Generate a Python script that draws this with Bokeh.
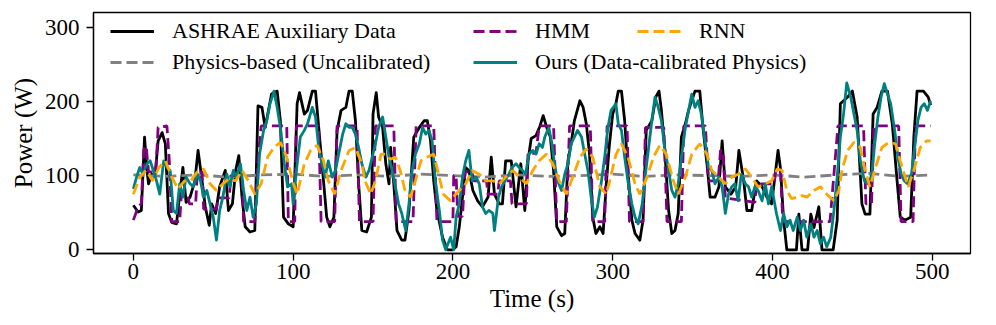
from bokeh.plotting import figure
from bokeh.models import Legend, LegendItem, FixedTicker, Range1d
from bokeh.embed import file_html
from bokeh.resources import INLINE

# ---------------- data ----------------
t_ashrae = [0, 3, 5, 7, 8.5, 9.5, 11.5, 13.5, 15.5, 18, 20, 22, 24, 27, 29, 31, 33, 35.5, 38.5, 40.5,
            43, 45, 47.5, 49, 51.5, 54, 57.5, 59.5, 62, 64, 66, 68, 70, 73, 76, 78, 80.5, 82.5, 86.5, 90,
            92, 94, 97, 100, 102.5, 104, 107, 109, 112, 114, 116, 119, 121, 123, 125.5, 127.5, 130, 133, 135, 137,
            139, 141, 143, 146, 149, 150, 152, 153.5, 156, 158, 160, 161, 163, 165, 168, 170, 172.5, 175.5, 179, 182,
            184, 186, 188, 190, 193.5, 196.5, 200, 202, 204, 206, 208, 210, 212.5, 215.5, 218.5, 222, 224, 226, 229, 231,
            233, 236.5, 239.5, 242.5, 245, 247, 249, 252, 254.5, 256.5, 259, 261, 263, 265, 268, 270, 272, 274, 276, 279.5,
            281.5, 283.5, 285.5, 287.5, 289.5, 292, 294, 296, 298, 300, 302, 303.5, 305.5, 307.5, 309.5, 312, 314, 317, 319, 321,
            324.5, 327, 329, 330.5, 332.5, 335, 337, 339, 341, 343, 345.5, 347.5, 351.5, 354.5, 356.5, 359, 361, 364, 366.5, 368.5,
            370.5, 374, 377, 379, 382, 384, 387, 390, 393.5, 396.5, 399.5, 403.5, 405, 407, 409, 415, 416.5, 418.5, 422, 424,
            426, 429, 431, 438, 440.5, 442.5, 444.5, 447, 450, 453, 456, 458, 461, 463, 465.5, 468.5, 472, 475, 478, 480,
            483, 486.5, 488.5, 490.5, 494.5, 497.5, 499]
v_ashrae = [60, 51, 53, 152, 107, 89, 102, 98, 147, 158, 143, 49, 37, 35, 75, 111, 64, 71, 93, 134,
            93, 58, 33, 62, 49, 85, 107, 53, 62, 107, 127, 71, 31, 24, 26, 194, 192, 165, 210, 214,
            174, 44, 35, 31, 197, 212, 183, 188, 214, 214, 165, 93, 44, 31, 44, 161, 188, 192, 214, 214,
            174, 89, 26, 24, 44, 183, 212, 179, 165, 116, 89, 138, 89, 26, 13, 13, 53, 152, 165, 174,
            174, 147, 93, 53, 17, 0, 0, 4, 31, 71, 111, 107, 80, 66, 58, 71, 125, 75, 62, 62,
            120, 120, 58, 116, 53, 120, 150, 154, 167, 181, 163, 152, 107, 31, 19, 22, 120, 143, 174, 201,
            192, 170, 129, 44, 22, 31, 22, 89, 143, 183, 197, 214, 214, 174, 107, 40, 22, 13, 40, 161,
            174, 206, 214, 188, 138, 53, 22, 26, 49, 152, 170, 188, 214, 214, 165, 116, 71, 71, 85, 147,
            85, 75, 85, 134, 93, 53, 53, 93, 85, 71, 62, 134, 110, 40, 0, 0, 48, 0, 0, 48,
            30, 58, 0, 0, 40, 197, 201, 206, 214, 179, 62, 48, 48, 183, 192, 214, 214, 170, 93, 44,
            40, 44, 152, 214, 214, 206, 195]

t_physics = [0, 20, 40, 60, 80, 100, 120, 140, 160, 180, 200, 220, 240, 260, 280, 300, 320, 340, 360, 380,
             400, 420, 440, 460, 480, 499]
v_physics = [101, 99, 101, 98, 101, 102, 99, 101, 99, 102, 100, 98, 101, 99, 100, 102, 99, 101, 100, 99,
             101, 98, 101, 103, 99, 101]

t_hmm = [0, 3, 5, 6.5, 8, 9.5, 14, 15.5, 21, 22.5, 24, 29, 30, 34, 35, 39, 40, 43, 44, 52,
         53, 60, 61, 68, 69, 76, 78, 80, 96, 97, 101, 102, 116, 117.5, 126, 127.5, 140, 141.5, 150, 151.5,
         163, 164.5, 175, 177, 188, 190, 200, 200.5, 202, 203, 206, 207.5, 212, 213, 221, 222, 228, 229, 236, 237,
         246, 247, 252, 254, 263, 265, 271, 273, 286, 287.5, 295, 296.5, 309, 310.5, 319, 320.5, 332, 334, 343, 344.5,
         358, 360, 366, 367.5, 369, 370.5, 389, 390, 401, 402, 405, 406.5, 436, 441, 457, 458.5, 462, 463.5, 479, 480.5,
         488, 489.5, 499]
v_hmm = [40, 58, 62, 135, 140, 105, 105, 165, 167, 120, 38, 38, 75, 75, 62, 62, 105, 105, 55, 55,
         70, 70, 100, 100, 38, 38, 120, 167, 167, 38, 38, 167, 167, 38, 38, 167, 167, 38, 38, 167,
         167, 38, 38, 167, 167, 38, 38, 100, 100, 45, 45, 105, 105, 93, 93, 75, 75, 93, 93, 62,
         62, 130, 130, 167, 167, 38, 38, 167, 167, 38, 38, 167, 167, 38, 38, 165, 165, 38, 38, 167,
         167, 93, 93, 134, 134, 70, 64, 89, 89, 107, 107, 38, 38, 167, 167, 62, 62, 167, 167, 38,
         38, 167, 167]

t_ours = [0, 2, 4, 6, 8.5, 10.5, 12.5, 14.5, 16.5, 19, 21, 23, 25, 27, 29, 31, 33, 35.5, 37.5, 40,
          42, 44, 46, 48, 50, 52, 54, 56, 58.5, 60.5, 62.5, 64.5, 67, 69, 71, 73, 75, 77, 79, 81.5,
          83.5, 85.5, 88, 90, 92, 94.5, 96.5, 99, 100, 102.5, 104.5, 107, 109, 112, 114, 116, 118, 120, 122, 124.5,
          126.5, 128.5, 131, 133, 135, 137, 139, 141, 143, 145.5, 147.5, 149.5, 151.5, 153.5, 156, 158, 160, 162, 164, 166,
          168, 170.5, 172.5, 174.5, 176.5, 179, 181, 183, 185, 187, 189, 191.5, 193.5, 195.5, 198.5, 200.5, 202, 204, 206, 208,
          210, 212, 214.5, 216.5, 218.5, 220.5, 222.5, 225, 226, 228.5, 230.5, 232.5, 235, 237, 239.5, 241.5, 243.5, 245.5, 247.5, 250,
          252, 254, 256, 257.5, 260, 262, 263.5, 265.5, 268, 270, 272, 274, 276, 278, 280.5, 282.5, 284.5, 286.5, 288.5, 290.5,
          293, 295, 297, 299, 302, 303.5, 305.5, 307.5, 309.5, 312, 314, 316, 318.5, 320.5, 322.5, 324.5, 326.5, 328.5, 330.5, 332.5,
          335, 337, 339, 341, 343, 345.5, 347.5, 349.5, 351.5, 353.5, 355.5, 358, 360, 362, 364, 366.5, 368.5, 370.5, 372.5, 374.5,
          376.5, 378.5, 380.5, 383, 385, 387, 389, 391, 393.5, 395.5, 397.5, 399.5, 402.5, 405, 407, 409, 411, 413, 415.5, 417.5,
          419.5, 421.5, 424, 426, 428, 430, 432, 434, 436.5, 438.5, 440.5, 442.5, 444.5, 446.5, 449, 451, 453, 455, 457.5, 459.5,
          462, 464, 466, 468, 470, 472, 474, 476.5, 478.5, 480.5, 482.5, 484.5, 487, 489, 491, 493, 495, 497, 499]
v_ours = [82, 98, 111, 102, 116, 120, 107, 93, 75, 120, 111, 107, 53, 49, 89, 71, 98, 89, 85, 102,
          93, 71, 80, 62, 44, 13, 53, 71, 102, 85, 107, 98, 116, 80, 53, 71, 44, 62, 129, 161,
          174, 197, 214, 192, 165, 116, 85, 89, 62, 116, 152, 161, 170, 192, 179, 138, 116, 98, 120, 98,
          107, 129, 156, 170, 165, 165, 156, 138, 116, 98, 107, 125, 143, 165, 179, 152, 125, 107, 85, 62,
          49, 26, 62, 107, 129, 143, 165, 156, 161, 147, 93, 53, 13, 0, 17, 0, 44, 62, 98, 120,
          134, 93, 98, 89, 58, 49, 53, 49, 26, 71, 85, 93, 102, 111, 116, 111, 107, 102, 129, 134,
          129, 143, 138, 152, 165, 143, 116, 93, 80, 102, 116, 143, 152, 161, 152, 129, 107, 71, 44, 58,
          93, 125, 165, 188, 197, 170, 161, 125, 93, 62, 44, 35, 62, 102, 138, 174, 206, 192, 174, 138,
          107, 80, 71, 89, 125, 165, 188, 210, 192, 201, 183, 143, 111, 107, 89, 98, 85, 49, 75, 85,
          89, 66, 102, 89, 85, 71, 85, 80, 66, 89, 62, 85, 49, 26, 49, 31, 40, 26, 44, 26,
          40, 17, 35, 17, 26, 8, 17, 4, 17, 53, 98, 152, 183, 225, 206, 183, 161, 120, 93, 89,
          98, 143, 179, 206, 224, 210, 197, 161, 125, 102, 93, 89, 102, 138, 174, 192, 197, 188, 201]

t_rnn = [0, 4, 8, 12, 16, 20, 24, 28, 32, 36, 40, 44, 48, 52, 56, 60, 64, 68, 72, 76,
         80, 84, 88, 92, 96, 100, 102.5, 107, 111, 115, 119, 122, 126, 130, 135, 139, 143, 145, 148.5, 151.5,
         155, 158, 161, 164, 167, 170, 173.5, 176.5, 180, 184, 188, 191, 194, 198.5, 200, 204, 208, 212, 216.5, 220.5,
         225, 229, 233, 237.5, 241.5, 246, 250, 254, 258.5, 262.5, 266.5, 271, 275, 279.5, 283.5, 287.5, 292, 296, 298, 302,
         305.5, 309.5, 314, 317, 321.5, 325.5, 329.5, 333.5, 338, 341, 345.5, 349.5, 354.5, 359, 362, 366.5, 370.5, 374.5, 378.5, 383,
         387, 391, 395.5, 399.5, 403, 406, 409, 412, 415.5, 418.5, 421.5, 426, 430, 434, 438.5, 441.5, 443.5, 447, 451, 455,
         458, 461, 464.5, 468.5, 473, 477, 480, 483, 485, 488.5, 492.5, 496.5, 499]
v_rnn = [75, 98, 107, 93, 111, 120, 98, 82, 93, 93, 105, 109, 89, 80, 89, 96, 93, 107, 93, 75,
         89, 125, 138, 145, 125, 90, 75, 116, 134, 141, 120, 93, 75, 107, 134, 138, 116, 93, 75, 93,
         129, 129, 122, 125, 107, 80, 71, 93, 120, 125, 129, 102, 75, 66, 71, 80, 89, 107, 102, 93,
         93, 89, 98, 107, 98, 89, 107, 120, 129, 116, 93, 75, 98, 125, 136, 125, 85, 75, 92, 128,
         143, 125, 89, 75, 98, 125, 141, 129, 93, 75, 98, 129, 143, 129, 107, 98, 89, 98, 102, 109,
         98, 85, 89, 93, 109, 107, 80, 69, 71, 73, 71, 80, 85, 75, 66, 80, 107, 134, 145, 138,
         107, 85, 111, 138, 145, 143, 120, 98, 85, 107, 138, 147, 147]

x_ticks = [0, 100, 200, 300, 400, 500]
y_ticks = [0, 100, 200, 300]

labels = ["ASHRAE Auxiliary Data", "Physics-based (Uncalibrated)", "HMM",
          "Ours (Data-calibrated Physics)", "RNN"]

# ---------------- figure ----------------
FONT = "Liberation Serif"
FS = "22px"
FS_TICK = "23px"
FS_AX = "25px"

p = figure(frame_width=877, frame_height=241, output_backend="svg", toolbar_location=None,
           x_range=Range1d(-24.95, 523.95), y_range=Range1d(-5, 320),
           min_border_left=93, min_border_right=10, min_border_top=12, min_border_bottom=60)
p.grid.visible = False
p.background_fill_color = "white"
p.border_fill_color = "white"
p.outline_line_color = "black"
p.outline_line_width = 1.3

for ax in (p.xaxis[0], p.yaxis[0]):
    ax.major_label_text_font = FONT
    ax.major_label_text_font_size = FS_TICK
    ax.major_label_text_color = "black"
    ax.axis_label_text_font = FONT
    ax.axis_label_text_font_size = FS_AX
    ax.axis_label_text_font_style = "normal"
    ax.axis_label_text_color = "black"
    ax.axis_line_color = "black"
    ax.axis_line_width = 1.3
    ax.major_tick_line_color = "black"
    ax.major_tick_line_width = 1.3
    ax.major_tick_in = 0
    ax.major_tick_out = 7
    ax.minor_tick_line_color = None

p.xaxis[0].ticker = FixedTicker(ticks=x_ticks)
p.yaxis[0].ticker = FixedTicker(ticks=y_ticks)
p.xaxis[0].axis_label = "Time (s)"
p.yaxis[0].axis_label = "Power (W)"
p.xaxis[0].major_label_standoff = 3
p.xaxis[0].axis_label_standoff = 3
p.yaxis[0].major_label_standoff = 7
p.yaxis[0].axis_label_standoff = 5

LW = 2.8
DASH = "11 5"
r_ashrae = p.line(t_ashrae, v_ashrae, line_color="black", line_width=LW, line_join="round")
r_phys = p.line(t_physics, v_physics, line_color="#808080", line_width=LW, line_dash=DASH)
r_hmm = p.line(t_hmm, v_hmm, line_color="#800080", line_width=LW, line_dash=DASH)
r_ours = p.line(t_ours, v_ours, line_color="#008080", line_width=LW, line_join="round")
r_rnn = p.line(t_rnn, v_rnn, line_color="#FFA500", line_width=LW, line_dash=DASH)

# legend: one single-item legend per entry, placed like the reference
# (x offset of handle start from frame left, y of item centre from frame bottom)
placements = [
    (r_ashrae, labels[0], 17, 221),
    (r_phys, labels[1], 17, 190),
    (r_hmm, labels[2], 380, 221),
    (r_ours, labels[3], 380, 190),
    (r_rnn, labels[4], 544, 221),
]
H = 24
for rend, lab, x, yc in placements:
    lg = Legend(items=[LegendItem(label=lab, renderers=[rend])],
                location=(x, yc - H // 2), orientation="vertical",
                padding=0, margin=0, spacing=0,
                glyph_width=44, glyph_height=H, label_height=H,
                label_standoff=18,
                label_text_font=FONT, label_text_font_size=FS, label_text_color="black",
                label_text_baseline="middle",
                border_line_color=None, background_fill_alpha=0.0)
    p.add_layout(lg, "center")

open("out.html", "w").write(file_html(p, INLINE))
